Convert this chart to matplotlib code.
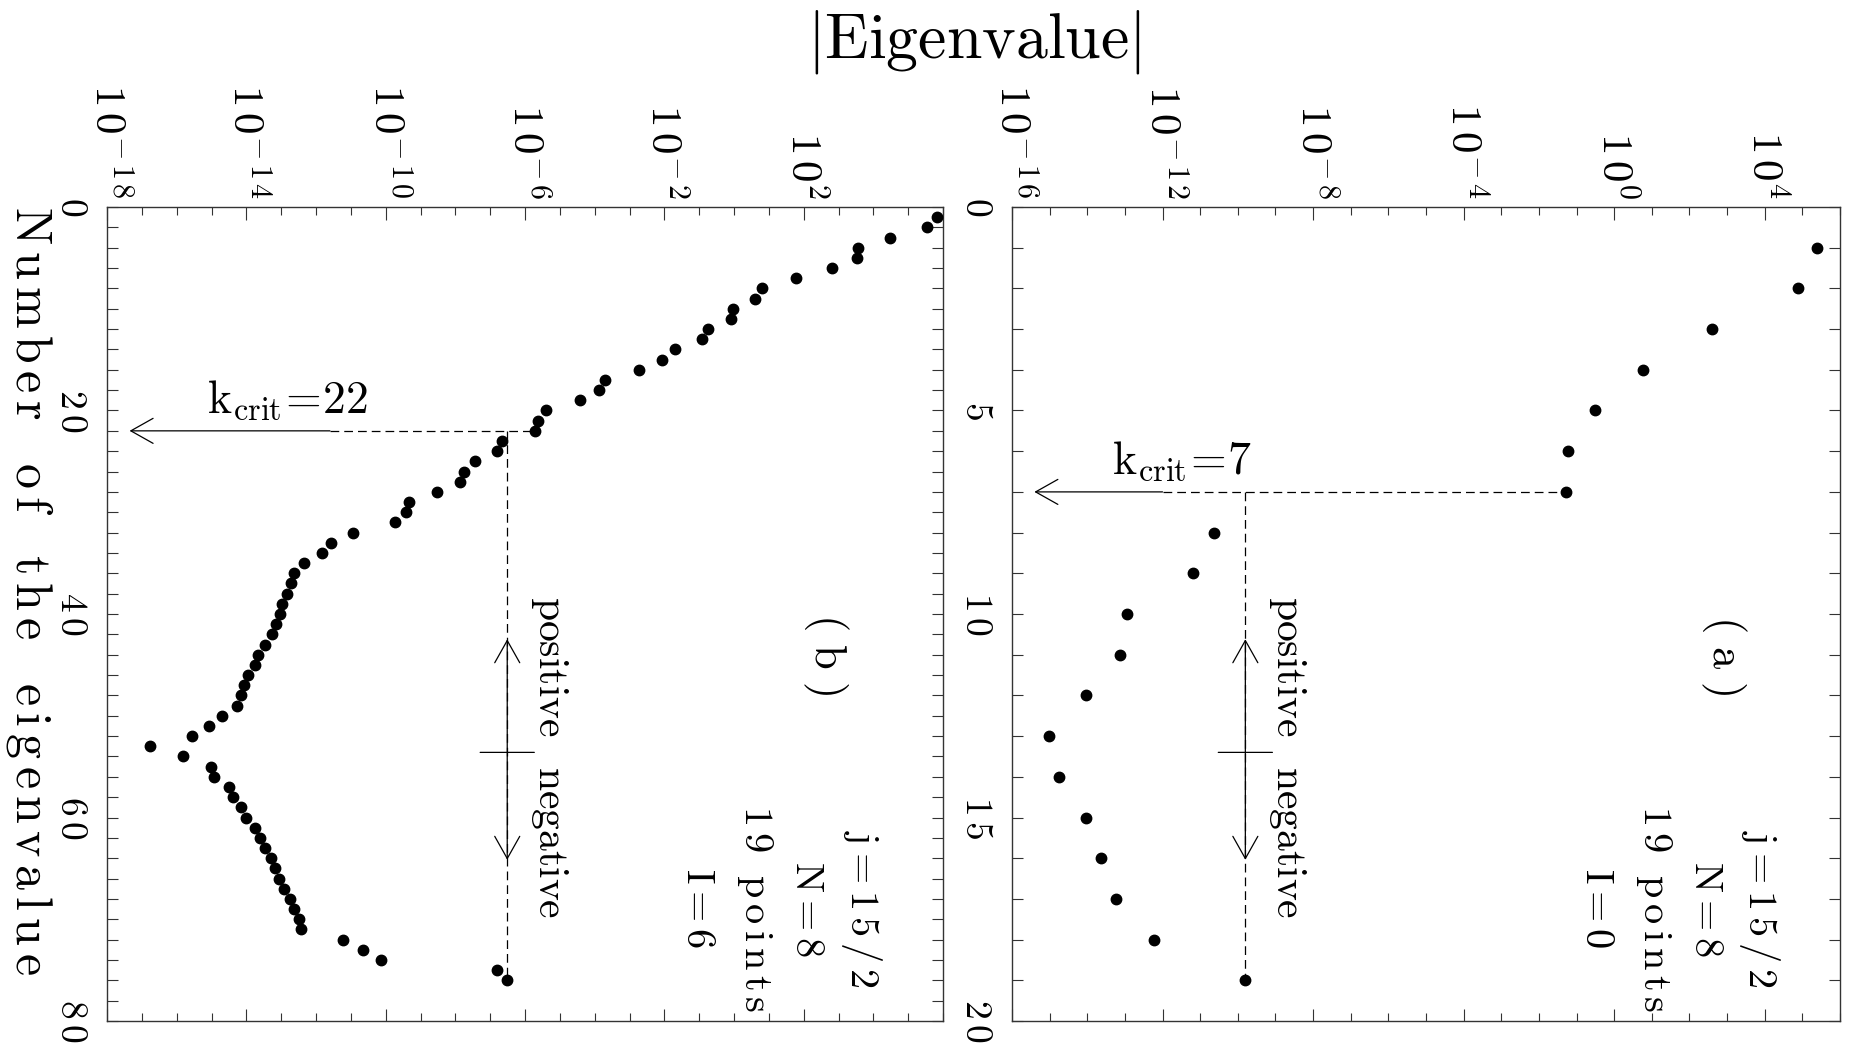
import numpy as np
import matplotlib
matplotlib.use("Agg")
import matplotlib.pyplot as plt
from matplotlib.ticker import FixedLocator, FuncFormatter, NullFormatter, MultipleLocator
from matplotlib.transforms import blended_transform_factory

plt.rcParams['mathtext.fontset'] = 'cm'
plt.rcParams['font.family'] = 'serif'
plt.rcParams['font.serif'] = ['DejaVu Serif']

# panel (a): j=15/2, N=8, 19 points, I=0  -- log10 |eigenvalue| per eigenvalue number
num_a = np.arange(1, 20)
log_a = [5.40, 4.88, 2.59, 0.76, -0.52, -1.22, -1.29, -10.62, -11.19, -12.94,
         -13.13, -14.03, -15.01, -14.76, -14.03, -13.63, -13.24, -12.22, -9.80]
kcrit_a = 7
info_a = ['j=15/2', 'N=8', '19 points', 'I=0']

# panel (b): j=15/2, N=8, 19 points, I=6
num_b = np.arange(1, 77)
log_b = [5.84, 5.54, 4.49, 3.57, 3.54, 2.82, 1.77, 0.80, 0.61, -0.03,
         -0.08, -0.75, -0.93, -1.69, -2.08, -2.74, -3.69, -3.87, -4.43, -5.41,
         -5.62, -5.72, -6.66, -6.80, -7.44, -7.75, -7.87, -8.54, -9.34, -9.41,
         -9.74, -10.95, -11.57, -11.84, -12.34, -12.64, -12.72, -12.84, -12.97, -13.02,
         -13.16, -13.26, -13.45, -13.66, -13.75, -13.94, -14.08, -14.15, -14.26, -14.71,
         -15.06, -15.55, -16.76, -15.81, -15.01, -14.94, -14.49, -14.38, -14.14, -14.00,
         -13.75, -13.61, -13.47, -13.30, -13.19, -13.05, -12.91, -12.74, -12.63, -12.48,
         -12.44, -11.23, -10.66, -10.13, -6.79, -6.51]
kcrit_b = 22
info_b = ['j=15/2', 'N=8', '19 points', 'I=6']


def sp(s, gap=r'\,', space=r'\ \ '):
    parts = [space if c == ' ' else (r'\!=\!' if c == '=' else c) for c in s]
    return r'$\mathrm{' + gap.join(parts) + '}$'


def logfmt(v, pos):
    e = str(int(round(np.log10(v))))
    return r'$1\,0^{' + r'\,'.join(e) + '}$'


def numfmt(v, pos):
    return r'$' + r'\,'.join(str(int(round(v)))) + '$'


W, H = 1859, 1047
fig = plt.figure(figsize=(W / 100, H / 100), dpi=100)


def box(l, r, t, b):
    return [l / W, 1 - b / H, (r - l) / W, (b - t) / H]


dash = (0, (7, 4))


def panel(ax, num, logv, emin, nmax, nmaj, nmin, kcrit, solid_end, tag, info):
    x = 10.0 ** np.asarray(logv)
    ax.plot(x, num, 'o', color='k', ms=7.5, clip_on=False, zorder=5)
    ax.set_xscale('log')
    ax.set_xlim(10.0 ** emin, 1e6)
    ax.set_ylim(nmax, 0)
    ax.xaxis.set_major_locator(FixedLocator(10.0 ** np.arange(emin, 6, 4)))
    ax.xaxis.set_minor_locator(FixedLocator(10.0 ** np.arange(emin, 7, 1)))
    ax.xaxis.set_major_formatter(FuncFormatter(logfmt))
    ax.xaxis.set_minor_formatter(NullFormatter())
    ax.yaxis.set_major_locator(MultipleLocator(nmaj))
    ax.yaxis.set_minor_locator(MultipleLocator(nmin))
    ax.yaxis.set_major_formatter(FuncFormatter(numfmt))
    ax.tick_params(which='both', direction='in', top=True, bottom=True, left=True, right=True,
                   labeltop=True, labelbottom=False, labelleft=True, width=0.8, color='#333333')
    ax.tick_params(axis='x', which='major', length=9, pad=6, labelrotation=-90, labelsize=31)
    ax.tick_params(axis='x', which='minor', length=6)
    ax.tick_params(axis='y', which='both', length=8, pad=13, labelsize=27)
    for lbl in ax.get_yticklabels():
        lbl.set_rotation(-90)
        lbl.set_va('center')
    for s in ax.spines.values():
        s.set_linewidth(1.0)
        s.set_color('#333333')

    xk = x[kcrit - 1]
    xl = x[-1]
    ax.plot([10.0 ** solid_end, xk], [kcrit, kcrit], ls=dash, color='k', lw=0.9)
    ax.plot([xl, xl], [kcrit, num[-1]], ls=dash, color='k', lw=0.9)
    ax.annotate('', xy=(0.027, kcrit), xycoords=('axes fraction', 'data'),
                xytext=(10.0 ** solid_end, kcrit), textcoords='data',
                arrowprops=dict(arrowstyle='->,head_length=0.8,head_width=0.45', lw=0.9,
                                color='k', shrinkA=0, shrinkB=0, mutation_scale=20))
    ax.annotate(sp('k_{crit}=' + str(kcrit), gap=''), xy=(0, kcrit), xycoords=('axes fraction', 'data'),
                xytext=(72, 13), textcoords='offset points', ha='left', va='baseline', fontsize=33)

    tr = blended_transform_factory(ax.transData, ax.transAxes)
    ax.annotate('', xy=(xl, 0.469), xycoords=tr, xytext=(xl, 0.198), textcoords=tr,
                arrowprops=dict(arrowstyle='<->,head_length=0.8,head_width=0.45', lw=0.9,
                                color='k', shrinkA=0, shrinkB=0, mutation_scale=20))
    for d in (-19.5, 19.5):
        ax.annotate('', xy=(xl, 0.33), xycoords=tr, xytext=(d, 0), textcoords='offset points',
                    arrowprops=dict(arrowstyle='-', lw=0.9, color='k', shrinkA=0, shrinkB=0))
    ax.annotate(sp('positive', gap=''), xy=(xl, 0.33), xycoords=tr, xytext=(31, 11), textcoords='offset points',
                rotation=-90, ha='center', va='bottom', fontsize=30)
    ax.annotate(sp('negative', gap=''), xy=(xl, 0.33), xycoords=tr, xytext=(31, -10), textcoords='offset points',
                rotation=-90, ha='center', va='top', fontsize=30)

    ax.text(0.86, 0.45, sp('(' + tag + ')', gap=r'\,\,'), transform=ax.transAxes, rotation=-90,
            ha='center', va='center', fontsize=32)
    for xs, s in zip([0.903, 0.837, 0.775, 0.706], info):
        ax.text(xs, 0.138, sp(s, gap=r'\,', space=r'\ '), transform=ax.transAxes, rotation=-90,
                ha='center', va='center', fontsize=29)


ax_b = fig.add_axes(box(107, 943, 207, 1021))
ax_a = fig.add_axes(box(1012, 1840, 207, 1021))
panel(ax_a, num_a, log_a, -16, 20, 5, 1, kcrit_a, -12.0, 'a', info_a)
panel(ax_b, num_b, log_b, -18, 80, 20, 2, kcrit_b, -11.6, 'b', info_b)

fig.text(974 / W, 1 - 57 / H, sp('|Eigenvalue|', gap=''), fontsize=46, ha='center', va='baseline')
fig.text(29 / W, 1 - 590 / H, sp('Number of the eigenvalue', gap=r'\,', space=r'\ \ '), rotation=-90,
         ha='center', va='center', fontsize=36)

fig.savefig('out.png', dpi=100)
